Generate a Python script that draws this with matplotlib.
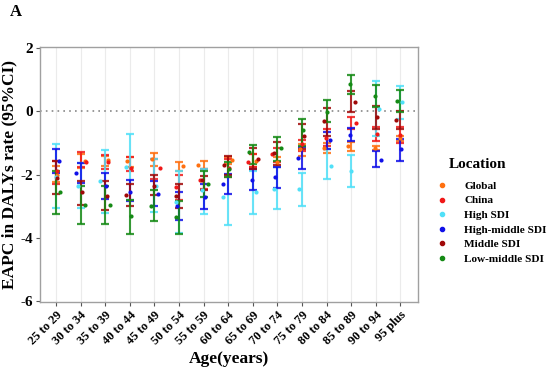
import numpy as np
import matplotlib
matplotlib.use("Agg")
import matplotlib.pyplot as plt
from matplotlib.lines import Line2D

ages = ["25 to 29", "30 to 34", "35 to 39", "40 to 44", "45 to 49", "50 to 54",
        "55 to 59", "60 to 64", "65 to 69", "70 to 74", "75 to 79", "80 to 84",
        "85 to 89", "90 to 94", "95 plus"]

locations = ["Global", "China", "High SDI", "High-middle SDI", "Middle SDI", "Low-middle SDI"]
colors = ["#FF7010", "#F01818", "#50E0F8", "#1010E8", "#A00808", "#158A15"]

global_val = [-2.00, -1.57, -1.55, -1.58, -1.50, -1.72, -1.70, -1.55, -1.57, -1.60, -1.20, -1.15, -1.10, -1.16, -0.86]
global_lo  = [-2.23, -1.79, -1.72, -1.76, -1.72, -1.88, -1.82, -1.66, -1.76, -1.76, -1.41, -1.32, -1.25, -1.22, -0.94]
global_hi  = [-1.72, -1.35, -1.41, -1.44, -1.32, -1.60, -1.57, -1.44, -1.35, -1.44, -1.03, -1.00, -0.97, -1.10, -0.78]

china_val = [-1.90, -1.60, -1.60, -1.79, -1.79, -2.38, -2.16, -1.79, -1.60, -1.35, -1.03, -0.85, -0.38, -0.72, -0.75]
china_lo  = [-2.29, -1.76, -1.82, -1.88, -2.13, -2.80, -2.45, -2.07, -1.76, -1.60, -1.25, -1.10, -0.56, -0.94, -1.00]
china_hi  = [-1.57, -1.29, -1.40, -1.44, -1.50, -2.00, -1.82, -1.50, -1.35, -1.15, -0.91, -0.55, -0.19, -0.50, -0.50]

high_val = [-2.07, -2.35, -2.20, -1.76, -2.35, -2.87, -2.50, -2.72, -2.54, -2.45, -2.45, -1.72, -1.88, 0.05, 0.28]
high_lo  = [-3.07, -3.07, -3.20, -2.79, -3.17, -3.86, -3.23, -3.60, -3.26, -3.10, -2.98, -2.15, -2.38, -0.80, -0.25]
high_hi  = [-1.03, -1.63, -1.22, -0.72, -1.50, -1.88, -1.82, -2.00, -1.88, -1.76, -1.94, -1.20, -1.38, 0.94, 0.78]

hm_val = [-1.57, -1.95, -2.35, -2.54, -2.60, -3.00, -2.70, -2.29, -2.16, -2.07, -1.47, -0.90, -0.75, -1.54, -1.19]
hm_lo  = [-1.94, -2.26, -2.76, -2.85, -2.98, -3.42, -3.10, -2.63, -2.50, -2.41, -1.82, -1.20, -0.94, -1.76, -1.57]
hm_hi  = [-1.19, -1.63, -1.94, -2.16, -2.19, -2.54, -2.29, -1.99, -1.82, -1.76, -1.13, -0.66, -0.53, -1.25, -0.88]

mid_val = [-2.10, -2.54, -2.68, -2.66, -2.35, -2.68, -2.16, -1.70, -1.50, -1.32, -0.78, -0.31, 0.28, -0.19, -0.28]
mid_lo  = [-2.60, -2.95, -3.13, -2.98, -2.66, -3.07, -2.50, -2.00, -1.82, -1.70, -1.20, -0.78, -0.03, -0.56, -0.56]
mid_hi  = [-1.57, -2.19, -2.22, -2.29, -2.00, -2.29, -2.04, -1.41, -1.16, -0.97, -0.40, 0.10, 0.63, 0.16, 0.00]

lm_val = [-2.55, -2.95, -2.95, -3.32, -3.00, -3.35, -2.30, -1.82, -1.29, -1.16, -0.60, -0.03, 0.85, 0.47, 0.31]
lm_lo  = [-3.23, -3.57, -3.57, -3.89, -3.48, -3.89, -2.70, -2.07, -1.66, -1.57, -1.10, -0.35, 0.55, 0.13, -0.03]
lm_hi  = [-1.88, -2.35, -2.35, -2.79, -2.48, -2.82, -1.88, -1.60, -1.07, -0.82, -0.25, 0.35, 1.13, 0.82, 0.66]

vals = [global_val, china_val, high_val, hm_val, mid_val, lm_val]
los = [global_lo, china_lo, high_lo, hm_lo, mid_lo, lm_lo]
his = [global_hi, china_hi, high_hi, hm_hi, mid_hi, lm_hi]

serif = ["Liberation Serif", "DejaVu Serif"]
plt.rcParams["font.family"] = serif
plt.rcParams["font.weight"] = "bold"

fig = plt.figure(figsize=(5.5, 3.7), dpi=100)
ax = fig.add_axes([40/550, 1-302/370, (418-40)/550, (302-47)/370])

x = np.arange(len(ages))
rng = np.random.default_rng(7)

ax.axhline(0, color="#888888", linestyle=(0, (1, 2.5)), linewidth=1.2, zorder=1)

for i in range(len(locations)):
    v = np.array(vals[i]); lo = np.array(los[i]); hi = np.array(his[i])
    ax.errorbar(x, v, yerr=[v - lo, hi - v], fmt="none", ecolor=colors[i],
                elinewidth=1.5, capsize=3, capthick=1.6, alpha=0.85, zorder=2 + i * 0.1)
for i in range(len(locations)):
    jitter = rng.uniform(-0.22, 0.22, len(ages))
    ax.scatter(x + jitter, vals[i], s=9, color=colors[i], zorder=4, linewidths=0)

ax.set_xlim(-0.65, 14.72)
ax.set_ylim(-6.02, 2.02)
ax.set_yticks([2, 0, -2, -4, -6])
ax.set_yticklabels(["2", "0", "-2", "-4", "-6"], fontsize=11, fontweight="bold")
ax.set_xticks(x)
ax.set_xticklabels(ages, rotation=45, ha="right", rotation_mode="anchor", fontsize=9, fontweight="bold")
ax.grid(axis="x", color="#EBEBEB", linewidth=0.8, zorder=0)
ax.set_axisbelow(True)
for s in ax.spines.values():
    s.set_color("#A0A0A0")
    s.set_linewidth(1.0)
ax.tick_params(axis="both", color="#555555", length=3, width=0.8, pad=2)

ax.set_ylabel("EAPC in DALYs rate (95%CI)", fontsize=12.5, fontweight="bold", labelpad=2)
ax.set_xlabel("Age(years)", fontsize=12.5, fontweight="bold", labelpad=3)

fig.text(10/550, 1-12/370, "A", fontsize=12, fontweight="bold", va="center", ha="left")

fig.text(449/550, 1-164/370, "Location", fontsize=11, fontweight="bold", va="center", ha="left")

handles = [Line2D([0], [0], marker="o", linestyle="none", markersize=3,
                  markerfacecolor=c, markeredgecolor=c) for c in colors]
leg = fig.legend(handles, locations, loc="upper left", bbox_to_anchor=(436/550, 1-181/370),
                 frameon=False, borderpad=0, borderaxespad=0, handlelength=1.0,
                 handletextpad=1.5, labelspacing=0.42,
                 prop={"weight": "bold", "size": 8.1, "family": serif})

fig.savefig("out.png", dpi=100)
